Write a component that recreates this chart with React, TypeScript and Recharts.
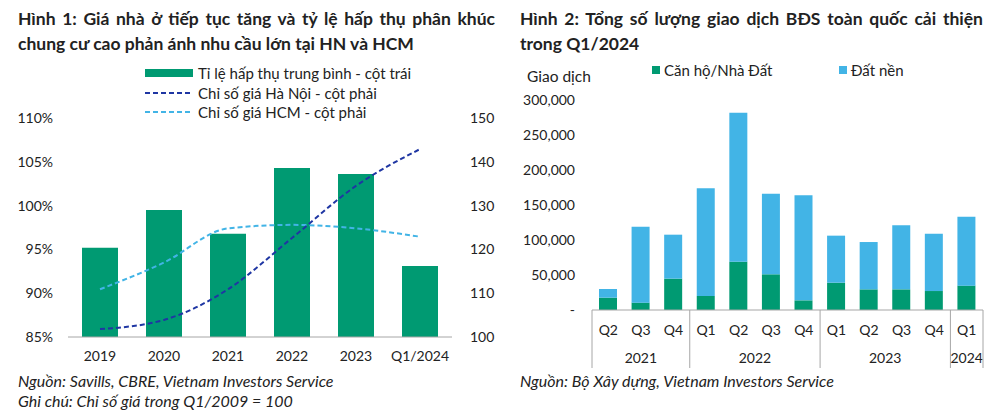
import React from 'react';
import { ComposedChart, BarChart, Bar, Line, XAxis, YAxis } from 'recharts';

// Hình 1
const years = ['2019', '2020', '2021', '2022', '2023', 'Q1/2024'];
const absorption = [95.2, 99.5, 96.8, 104.3, 103.6, 93.1];
const hanoiIndex = [101.8, 103.9, 110.9, 122.6, 134.5, 142.9];
const hcmIndex = [110.9, 117.0, 124.8, 125.6, 124.8, 122.9];
const leftTicks = [85, 90, 95, 100, 105, 110];
const rightTicks = [100, 110, 120, 130, 140, 150];

// Hình 2
const quarters = ['Q2', 'Q3', 'Q4', 'Q1', 'Q2', 'Q3', 'Q4', 'Q1', 'Q2', 'Q3', 'Q4', 'Q1'];
const quarterYears = ['2021', '2021', '2021', '2022', '2022', '2022', '2022', '2023', '2023', '2023', '2023', '2024'];
const apartment = [17600, 10500, 44800, 20000, 69000, 51000, 13800, 39000, 29500, 29500, 27100, 34800];
const land = [12400, 108500, 62800, 153800, 212900, 115200, 150000, 67200, 67600, 91500, 81900, 98500];
const volumeTicks = [0, 50000, 100000, 150000, 200000, 250000, 300000];

const GREEN = '#009a72';
const SKY = '#42b4e6';
const NAVY = '#1f36a3';
const FONT = 'Lato, "Liberation Sans", sans-serif';
const TEXT = '#222';

const chart1Data = years.map((y, i) => ({
  name: y,
  absorption: absorption[i],
  hanoi: hanoiIndex[i],
  hcm: hcmIndex[i],
}));

const chart2Data = quarters.map((q, i) => ({
  name: `${q}-${quarterYears[i]}`,
  quarter: q,
  year: quarterYears[i],
  apartment: apartment[i],
  land: land[i],
}));

// year groups for the two-level axis
const yearGroups: { start: number; count: number; year: string }[] = [];
quarterYears.forEach((y, i) => {
  if (i === 0 || quarterYears[i - 1] !== y) yearGroups.push({ start: i, count: 1, year: y });
  else yearGroups[yearGroups.length - 1].count += 1;
});

const C2_W = 500;
const C2_MARGIN = { top: 20, right: 17, left: 32, bottom: 0 };
const C2_YAXIS_W = 60;
const C2_BAND = (C2_W - C2_MARGIN.left - C2_MARGIN.right - C2_YAXIS_W) / quarters.length;

const QuarterTick = (props: any) => {
  const { x, y, index } = props;
  const group = yearGroups.find(g => g.start === index);
  const isLast = index === quarters.length - 1;
  return (
    <g>
      <text x={x} y={y + 25} textAnchor="middle" fontSize={14} fill={TEXT} fontFamily={FONT}>
        {quarters[index]}
      </text>
      {group && (
        <>
          <line x1={x - C2_BAND / 2} x2={x - C2_BAND / 2} y1={y} y2={y + 58} stroke="#a6a6a6" />
          <text
            x={x - C2_BAND / 2 + (group.count * C2_BAND) / 2}
            y={y + 53}
            textAnchor="middle"
            fontSize={14}
            fill={TEXT}
            fontFamily={FONT}
          >
            {group.year}
          </text>
        </>
      )}
      {isLast && <line x1={x + C2_BAND / 2} x2={x + C2_BAND / 2} y1={y} y2={y + 58} stroke="#a6a6a6" />}
    </g>
  );
};

const LegendRow = ({ kind, label, top }: { kind: 'bar' | 'navy' | 'sky'; label: string; top: number }) => (
  <div style={{ position: 'absolute', left: 145, top, display: 'flex', alignItems: 'center', height: 18 }}>
    <svg width={50} height={18}>
      {kind === 'bar' ? (
        <rect x={0} y={5} width={48} height={8} fill={GREEN} />
      ) : (
        <line x1={0} x2={48} y1={9} y2={9} stroke={kind === 'navy' ? NAVY : SKY} strokeWidth={2} strokeDasharray="5 3" />
      )}
    </svg>
    <span style={{ marginLeft: 3, fontSize: 15, color: TEXT }}>{label}</span>
  </div>
);

const titleBase: React.CSSProperties = {
  position: 'absolute',
  top: 6,
  fontWeight: 700,
  fontSize: 17.5,
  lineHeight: '25px',
  whiteSpace: 'nowrap',
};
const justifiedLine: React.CSSProperties = {
  textAlign: 'justify',
  textAlignLast: 'justify',
  whiteSpace: 'normal',
};

export default function App() {
  return (
    <div
      style={{
        position: 'absolute',
        left: 0,
        top: 0,
        width: 1000,
        height: 416,
        background: '#fff',
        fontFamily: FONT,
        color: TEXT,
        overflow: 'hidden',
      }}
    >
      {/* Hình 1 */}
      <div style={{ ...titleBase, left: 18, width: 477 }}>
        <div style={justifiedLine}>Hình 1: Giá nhà ở tiếp tục tăng và tỷ lệ hấp thụ phân khúc</div>
        <div>chung cư cao phản ánh nhu cầu lớn tại HN và HCM</div>
      </div>

      <LegendRow kind="bar" label="Tỉ lệ hấp thụ trung bình - cột trái" top={64} />
      <LegendRow kind="navy" label="Chỉ số giá Hà Nội - cột phải" top={84} />
      <LegendRow kind="sky" label="Chỉ số giá HCM - cột phải" top={103} />

      <div style={{ position: 'absolute', left: 0, top: 100 }}>
        <ComposedChart width={500} height={267} data={chart1Data} margin={{ top: 18, right: 8, left: 8, bottom: 0 }}>
          <XAxis
            dataKey="name"
            tickLine={false}
            axisLine={{ stroke: '#a6a6a6' }}
            tickMargin={8}
            tick={{ fontSize: 14, fill: TEXT, fontFamily: FONT }}
          />
          <YAxis
            yAxisId="left"
            domain={[85, 110]}
            ticks={leftTicks}
            width={60}
            tickLine={false}
            axisLine={false}
            tickMargin={9}
            tickFormatter={(v: number) => `${v}%`}
            tick={{ fontSize: 14, fill: TEXT, fontFamily: FONT }}
          />
          <YAxis
            yAxisId="right"
            orientation="right"
            domain={[100, 150]}
            ticks={rightTicks}
            width={40}
            tickLine={false}
            axisLine={false}
            tickMargin={12}
            tick={{ fontSize: 14, fill: TEXT, fontFamily: FONT, textAnchor: 'start' }}
          />
          <Bar yAxisId="left" dataKey="absorption" fill={GREEN} barSize={36} isAnimationActive={false} />
          <Line
            yAxisId="right"
            type="monotone"
            dataKey="hcm"
            stroke={SKY}
            strokeWidth={2}
            strokeDasharray="5 3"
            dot={false}
            isAnimationActive={false}
          />
          <Line
            yAxisId="right"
            type="monotone"
            dataKey="hanoi"
            stroke={NAVY}
            strokeWidth={2}
            strokeDasharray="5 3"
            dot={false}
            isAnimationActive={false}
          />
        </ComposedChart>
      </div>

      <div style={{ position: 'absolute', left: 18, top: 371, fontStyle: 'italic', fontSize: 16, lineHeight: '20px' }}>
        <div>Nguồn: Savills, CBRE, Vietnam Investors Service</div>
        <div>Ghi chú: Chỉ số giá trong Q1/2009 = 100</div>
      </div>

      {/* Hình 2 */}
      <div style={{ ...titleBase, left: 520, width: 463 }}>
        <div style={justifiedLine}>Hình 2: Tổng số lượng giao dịch BĐS toàn quốc cải thiện</div>
        <div>trong Q1/2024</div>
      </div>

      <div style={{ position: 'absolute', left: 527, top: 67, fontSize: 15.5 }}>Giao dịch</div>
      <div style={{ position: 'absolute', left: 652, top: 61, display: 'flex', alignItems: 'center', fontSize: 15 }}>
        <span style={{ display: 'inline-block', width: 8, height: 8, background: GREEN, marginRight: 4 }} />
        Căn hộ/Nhà Đất
      </div>
      <div style={{ position: 'absolute', left: 839, top: 61, display: 'flex', alignItems: 'center', fontSize: 15 }}>
        <span style={{ display: 'inline-block', width: 8, height: 8, background: SKY, marginRight: 4 }} />
        Đất nền
      </div>

      <div style={{ position: 'absolute', left: 500, top: 80 }}>
        <BarChart width={C2_W} height={300} data={chart2Data} margin={C2_MARGIN}>
          <XAxis
            dataKey="name"
            height={70}
            tickLine={false}
            tickSize={0}
            tickMargin={0}
            interval={0}
            axisLine={{ stroke: '#a6a6a6' }}
            tick={<QuarterTick />}
          />
          <YAxis
            domain={[0, 300000]}
            ticks={volumeTicks}
            width={C2_YAXIS_W}
            tickLine={false}
            axisLine={false}
            tickMargin={11}
            tickFormatter={(v: number) => (v === 0 ? '-' : v.toLocaleString('en-US'))}
            tick={{ fontSize: 14, fill: TEXT, fontFamily: FONT }}
          />
          <Bar dataKey="apartment" stackId="a" fill={GREEN} barSize={18} isAnimationActive={false} />
          <Bar dataKey="land" stackId="a" fill={SKY} barSize={18} isAnimationActive={false} />
        </BarChart>
      </div>

      <div style={{ position: 'absolute', left: 520, top: 371, fontStyle: 'italic', fontSize: 16, lineHeight: '20px' }}>
        Nguồn: Bộ Xây dựng, Vietnam Investors Service
      </div>
    </div>
  );
}
